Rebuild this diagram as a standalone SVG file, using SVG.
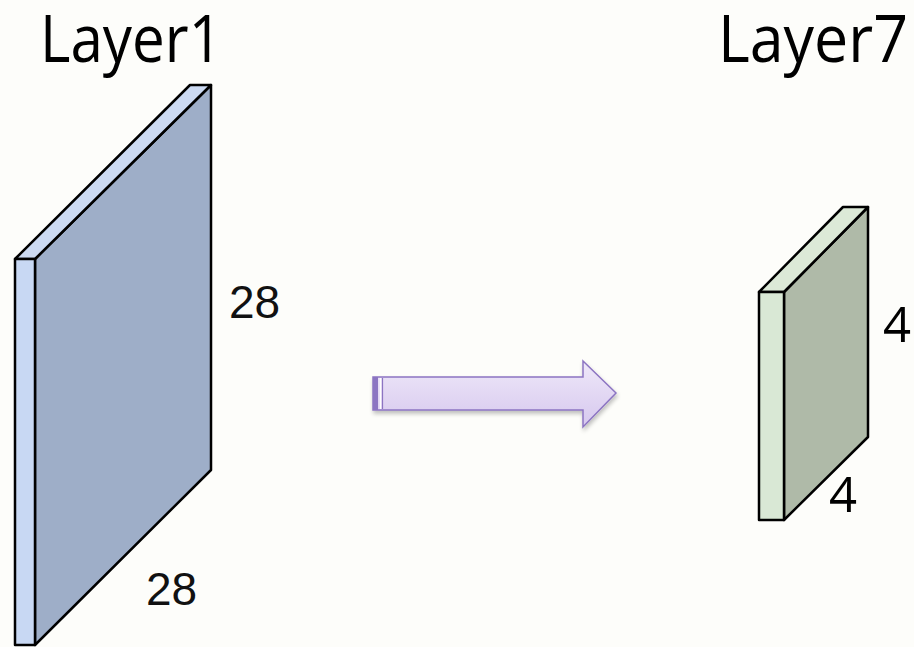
<svg xmlns="http://www.w3.org/2000/svg" width="914" height="647" viewBox="0 0 914 647">
  <style>
    .edge { stroke: #000; stroke-width: 2.5; stroke-linejoin: round; }
    .title { font-family: "Open Sans", "Noto Sans", sans-serif; font-size: 66px; fill: #000; }
    .dimA { font-family: "Liberation Sans", Arial, sans-serif; font-size: 46px; fill: #111; }
    .dimB { font-family: "Open Sans", "Noto Sans", sans-serif; font-size: 49px; fill: #000; }
  </style>
  <defs>
    <linearGradient id="arrowFill" x1="0" y1="0" x2="0" y2="1">
      <stop offset="0" stop-color="#efe8f9"/>
      <stop offset="1" stop-color="#d6c8ee"/>
    </linearGradient>
    <filter id="soft" x="-10%" y="-30%" width="130%" height="170%">
      <feGaussianBlur in="SourceAlpha" stdDeviation="2"/>
      <feOffset dx="1" dy="3"/>
      <feComponentTransfer><feFuncA type="linear" slope="0.25"/></feComponentTransfer>
      <feMerge><feMergeNode/><feMergeNode in="SourceGraphic"/></feMerge>
    </filter>
  </defs>

  <rect width="914" height="647" fill="#fdfdfa"/>

  <!-- input volume: 28 x 28 -->
  <g id="layer1">
    <text class="title" x="40" y="62" textLength="182" lengthAdjust="spacingAndGlyphs">Layer1</text>
    <polygon class="edge" points="35,259 211,85 211,470 35,645" fill="#9eaec8"/>
    <polygon class="edge" points="15,259 190,85 211,85 35,259" fill="#ccdaf2"/>
    <rect class="edge" x="15" y="259" width="20" height="386" fill="#c8d8f3"/>
    <text class="dimA" x="229" y="318">28</text>
    <text class="dimA" x="146" y="605">28</text>
  </g>

  <!-- output volume: 4 x 4 -->
  <g id="layer7">
    <text class="title" x="718" y="62" textLength="190" lengthAdjust="spacingAndGlyphs">Layer7</text>
    <polygon class="edge" points="784,292 868,207 868,437 784,520" fill="#afbaa8"/>
    <polygon class="edge" points="759,292 843,207 868,207 784,292" fill="#dce9d7"/>
    <rect class="edge" x="759" y="292" width="25" height="228" fill="#d9e8d5"/>
    <text class="dimB" x="883" y="342">4</text>
    <text class="dimB" x="829" y="512">4</text>
  </g>

  <!-- transition arrow -->
  <g id="connectors">
    <g filter="url(#soft)">
      <path d="M373,377 H583 V361 L616,393 L583,427 V410 H373 Z" fill="url(#arrowFill)" stroke="#8c74c2" stroke-width="1.5" stroke-linejoin="miter"/>
      <rect x="373" y="377" width="5" height="33" fill="#8c74c2"/>
      <line x1="380.5" y1="378" x2="380.5" y2="409" stroke="#ffffff" stroke-width="1.5"/>
      <line x1="382.5" y1="378" x2="382.5" y2="409" stroke="#8c74c2" stroke-width="1.2"/>
    </g>
  </g>
</svg>
